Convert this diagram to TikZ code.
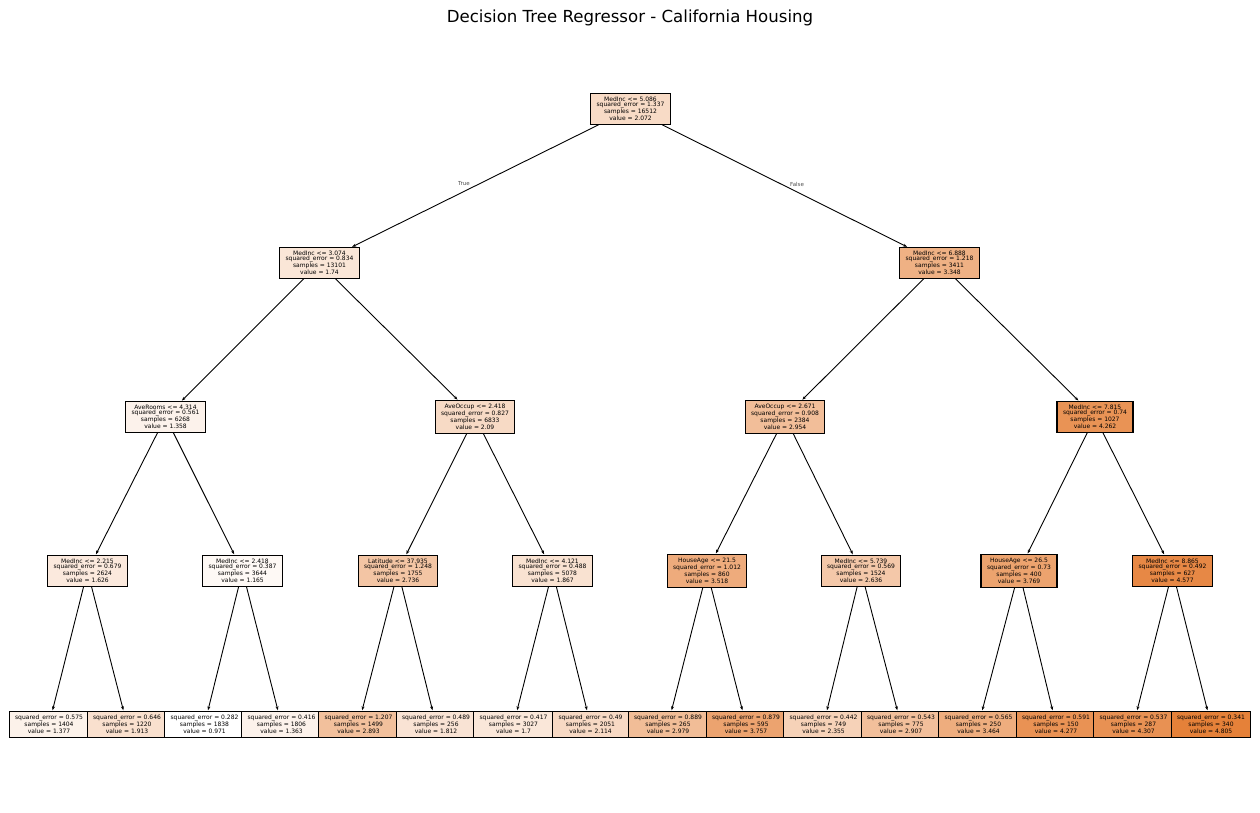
\documentclass[tikz,border=0pt]{standalone}
\usepackage{fontspec}
\setmainfont{DejaVu Sans}
\usetikzlibrary{arrows.meta}
\definecolor{tc}{RGB}{229,129,57}
\begin{document}
\begin{tikzpicture}[x=1pt,y=-1pt,
  tn/.style={draw=black,line width=1.1pt,fill=tc!#1!white,align=center,
    font=\fontsize{6}{5}\selectfont,inner xsep=6pt,inner ysep=3.5pt},
  edge/.style={draw=black,line width=0.9pt,-{Stealth[length=4pt,width=3pt]},shorten >=1pt},
  elab/.style={font=\fontsize{5.5}{6}\selectfont,text=black!70}]
\useasboundingbox (0,0) rectangle (1260,812);
\node[font=\fontsize{16.6}{19}\selectfont] (title) at (630,18) {Decision Tree Regressor - California Housing};
% level 0
\node[tn=28.7] (n0) at (630.5,109) {MedInc <= 5.086\\squared\_error = 1.337\\samples = 16512\\value = 2.072};
% level 1
\node[tn=20.1] (n1) at (319.5,263) {MedInc <= 3.074\\squared\_error = 0.834\\samples = 13101\\value = 1.74};
\node[tn=62.0] (n2) at (939.5,263) {MedInc <= 6.888\\squared\_error = 1.218\\samples = 3411\\value = 3.348};
% level 2
\node[tn=10.1] (n3) at (165.5,417) {AveRooms <= 4.314\\squared\_error = 0.561\\samples = 6268\\value = 1.358};
\node[tn=29.2] (n4) at (475,417) {AveOccup <= 2.418\\squared\_error = 0.827\\samples = 6833\\value = 2.09};
\node[tn=51.7] (n5) at (785,417) {AveOccup <= 2.671\\squared\_error = 0.908\\samples = 2384\\value = 2.954};
\node[tn=85.8] (n6) at (1095,417) {MedInc <= 7.815\\squared\_error = 0.74\\samples = 1027\\value = 4.262};
% level 3
\node[tn=17.1] (n7) at (87.5,571) {MedInc <= 2.215\\squared\_error = 0.679\\samples = 2624\\value = 1.626};
\node[tn=5.1] (n8) at (242.5,571) {MedInc <= 2.418\\squared\_error = 0.387\\samples = 3644\\value = 1.165};
\node[tn=46.0] (n9) at (398,571) {Latitude <= 37.935\\squared\_error = 1.248\\samples = 1755\\value = 2.736};
\node[tn=23.4] (n10) at (552.5,571) {MedInc <= 4.121\\squared\_error = 0.488\\samples = 5078\\value = 1.867};
\node[tn=66.4] (n11) at (707,571) {HouseAge <= 21.5\\squared\_error = 1.012\\samples = 860\\value = 3.518};
\node[tn=43.4] (n12) at (861,571) {MedInc <= 5.739\\squared\_error = 0.569\\samples = 1524\\value = 2.636};
\node[tn=73.0] (n13) at (1019,571) {HouseAge <= 26.5\\squared\_error = 0.73\\samples = 400\\value = 3.769};
\node[tn=94.1] (n14) at (1172.5,571) {MedInc <= 8.865\\squared\_error = 0.492\\samples = 627\\value = 4.577};
% leaves
\node[tn=10.6] (l1) at (49,724.5) {squared\_error = 0.575\\samples = 1404\\value = 1.377};
\node[tn=24.6] (l2) at (127,724.5) {squared\_error = 0.646\\samples = 1220\\value = 1.913};
\node[tn=0] (l3) at (204.5,724.5) {squared\_error = 0.282\\samples = 1838\\value = 0.971};
\node[tn=10.2] (l4) at (281.5,724.5) {squared\_error = 0.416\\samples = 1806\\value = 1.363};
\node[tn=50.1] (l5) at (358.5,724.5) {squared\_error = 1.207\\samples = 1499\\value = 2.893};
\node[tn=21.9] (l6) at (436,724.5) {squared\_error = 0.489\\samples = 256\\value = 1.812};
\node[tn=19.0] (l7) at (513.5,724.5) {squared\_error = 0.417\\samples = 3027\\value = 1.7};
\node[tn=29.8] (l8) at (590.5,724.5) {squared\_error = 0.49\\samples = 2051\\value = 2.114};
\node[tn=52.4] (l9) at (668,724.5) {squared\_error = 0.889\\samples = 265\\value = 2.979};
\node[tn=72.7] (l10) at (746,724.5) {squared\_error = 0.879\\samples = 595\\value = 3.757};
\node[tn=36.1] (l11) at (823.5,724.5) {squared\_error = 0.442\\samples = 749\\value = 2.355};
\node[tn=50.5] (l12) at (901,724.5) {squared\_error = 0.543\\samples = 775\\value = 2.907};
\node[tn=65.0] (l13) at (978.5,724.5) {squared\_error = 0.565\\samples = 250\\value = 3.464};
\node[tn=86.2] (l14) at (1056,724.5) {squared\_error = 0.591\\samples = 150\\value = 4.277};
\node[tn=87.0] (l15) at (1133.5,724.5) {squared\_error = 0.537\\samples = 287\\value = 4.307};
\node[tn=100] (l16) at (1211,724.5) {squared\_error = 0.341\\samples = 340\\value = 4.805};
% edges
\draw[edge] (n0) -- (n1);
\draw[edge] (n0) -- (n2);
\draw[edge] (n1) -- (n3);
\draw[edge] (n1) -- (n4);
\draw[edge] (n2) -- (n5);
\draw[edge] (n2) -- (n6);
\draw[edge] (n3) -- (n7);
\draw[edge] (n3) -- (n8);
\draw[edge] (n4) -- (n9);
\draw[edge] (n4) -- (n10);
\draw[edge] (n5) -- (n11);
\draw[edge] (n5) -- (n12);
\draw[edge] (n6) -- (n13);
\draw[edge] (n6) -- (n14);
\draw[edge] (n7) -- (l1);
\draw[edge] (n7) -- (l2);
\draw[edge] (n8) -- (l3);
\draw[edge] (n8) -- (l4);
\draw[edge] (n9) -- (l5);
\draw[edge] (n9) -- (l6);
\draw[edge] (n10) -- (l7);
\draw[edge] (n10) -- (l8);
\draw[edge] (n11) -- (l9);
\draw[edge] (n11) -- (l10);
\draw[edge] (n12) -- (l11);
\draw[edge] (n12) -- (l12);
\draw[edge] (n13) -- (l13);
\draw[edge] (n13) -- (l14);
\draw[edge] (n14) -- (l15);
\draw[edge] (n14) -- (l16);
% edge labels
\node[elab] (ltrue) at (464,184) {True};
\node[elab] (lfalse) at (797,184) {False};
\end{tikzpicture}
\end{document}
